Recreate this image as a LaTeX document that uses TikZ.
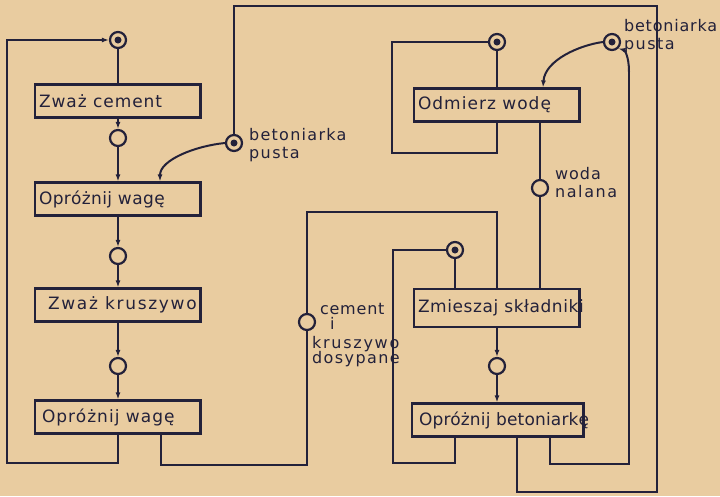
\documentclass[tikz,border=0pt]{standalone}
\usepackage{fontspec}
\setmainfont{DejaVu Sans}
\usetikzlibrary{arrows.meta}
\definecolor{paper}{RGB}{233,204,160}
\definecolor{ink}{RGB}{35,33,58}
\def\ls#1{\addfontfeatures{LetterSpace=#1}}
\def\boxtxt#1#2{\makebox[158pt][l]{\ls{#1}#2}}

\begin{document}
\begin{tikzpicture}[x=1pt, y=-1pt, >={Latex[length=7pt,width=5pt]},
    line width=2pt, color=ink,
    place/.style={draw, circle, minimum size=16pt, inner sep=0pt, line width=2.2pt},
    fullplace/.style={place, path picture={\fill[ink] (path picture bounding box.center) circle (3.5pt);}},
    action/.style={draw, rectangle, line width=2.2pt, minimum height=33pt, inner sep=4pt,
        font=\fontsize{17}{20}\selectfont,
        path picture={\draw[line width=4pt] (path picture bounding box.north east) -- (path picture bounding box.south east);}},
    note/.style={align=left, inner sep=0pt, font=\fontsize{16}{18}\selectfont}]
    \fill[paper] (0,0) rectangle (720,496);
    \useasboundingbox (0,0) rectangle (720,496);

    % lewa kolumna
    \node[fullplace] (pA) at (118,40) {};
    \node[action] (bCem) at (118,101) {\boxtxt{5.6}{Zważ cement}};
    \node[place] (p1) at (118,138) {};
    \node[action] (bOpr1) at (118,199) {\boxtxt{2.4}{Opróżnij wagę}};
    \node[place] (p2) at (118,256) {};
    \node[action] (bKrusz) at (118,305) {\boxtxt{10}{\hspace{9pt}Zważ kruszywo}};
    \node[place] (p3) at (118,366) {};
    \node[action] (bOpr2) at (118,417) {\boxtxt{6}{\hspace{3pt}Opróżnij wagę}};
    \node[fullplace] (pBL) at (234,143) {};
    \node[note, anchor=west] (tBL) at ([xshift=5pt,yshift=-2pt]pBL.east) {{\ls{8}betoniarka}\\{\ls{9}pusta}};
    \node[place] (pC) at (307,322) {};
    \node[note, anchor=north west] (tC) at (311,302) {{\ls{5}\hspace{8pt}cement}\\[-3pt]\hspace{18pt}i\\[1pt]{\ls{11}kruszywo}\\[-3pt]{\ls{9}dosypane}};

    % prawa kolumna
    \node[fullplace] (pW) at (497,42) {};
    \node[action] (bWoda) at (497,105) {\boxtxt{6}{Odmierz wodę}};
    \node[fullplace] (pBR) at (612,42) {};
    \node[note, anchor=west] (tBR) at ([xshift=2pt,yshift=6pt]pBR.east) {{\ls{5}betoniarka}\\{\ls{9}pusta}};
    \node[place] (pN) at (540,188) {};
    \node[note, anchor=west] (tN) at ([xshift=5pt,yshift=5pt]pN.east) {{\ls{6}woda}\\{\ls{10}nalana}};
    \node[fullplace] (pM) at (455,250) {};
    \node[action, minimum height=38pt] (bMiesz) at (497,308) {\boxtxt{3.4}{Zmieszaj składniki}};
    \node[place] (p4) at (497,366) {};
    \node[action, minimum width=172pt] (bBet) at (498,420) {\boxtxt{1}{Opróżnij betoniarkę}};

    \coordinate (lb) at (7,463);
    \coordinate (wb) at (392,153);
    \coordinate (ct) at (497,212);
    \coordinate (mb) at (393,463);
    \coordinate (rt) at (657,6);
    \coordinate (rb) at (517,492);
    \coordinate (rc) at (629,72);
    \coordinate (rd) at (629,464);

    \draw[->] (bOpr2) |- (lb) |- (pA);
    \draw (pA) -- (bCem);
    \draw[->] (bCem) -- (p1);
    \draw[->] (p1) -- (bOpr1);
    \draw[->] (pBL.west) .. controls (195,146) and (160,160) .. ([xshift=42pt]bOpr1.north);
    \draw[->] (bOpr1) -- (p2);
    \draw[->] (p2) -- (bKrusz);
    \draw[->] (bKrusz) -- (p3);
    \draw[->] (p3) -- (bOpr2);
    \draw ([xshift=43pt]bOpr2.south) -- ++(0,30) -| (pC);
    \draw (pC) |- (ct) -- (bMiesz);

    \draw (pW) -- (bWoda);
    \draw (bWoda) |- (wb) |- (pW);
    \draw[->] (pBR.west) .. controls (580,45) and (545,60) .. ([xshift=46pt]bWoda.north);
    \draw (pN |- bWoda.south) -- (pN) -- (pN |- bMiesz.north);
    \draw (bBet.south -| pM) |- (mb) |- (pM);
    \draw (pM) -- (pM |- bMiesz.north);
    \draw[->] (bMiesz) -- (p4);
    \draw[->] (p4) -- (p4 |- bBet.north);
    \draw ([xshift=52pt]bBet.south) |- (rd) -- (rc);
    \draw[->] (rc) .. controls (629,55) and (624,50) .. (pBR.south east);
    \draw (rb |- bBet.south) -- (rb) -| (rt) -| (pBL);
\end{tikzpicture}
\end{document}
